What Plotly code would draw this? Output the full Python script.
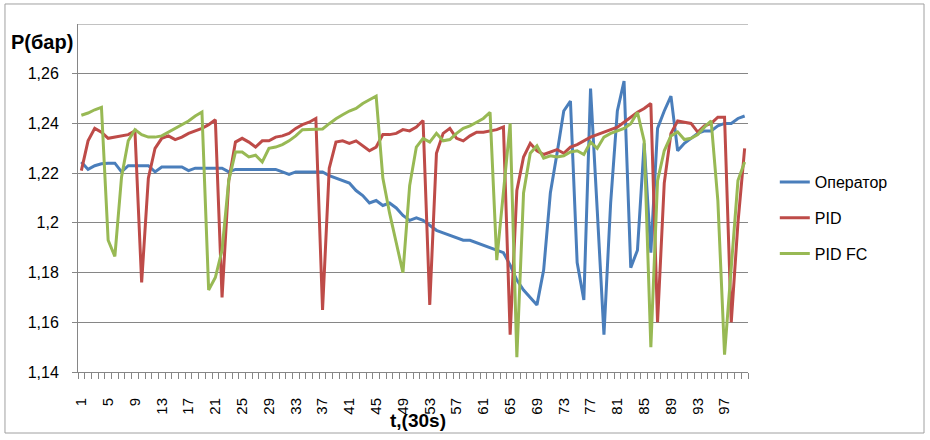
import plotly.graph_objects as go

t = list(range(1, 101))

operator = [1.2245, 1.2215, 1.223, 1.2238, 1.224, 1.224, 1.2205, 1.223, 1.223, 1.223,
            1.223, 1.2205, 1.2225, 1.2225, 1.2225, 1.2225, 1.221, 1.222, 1.222, 1.222,
            1.222, 1.222, 1.2205, 1.2215, 1.2215, 1.2215, 1.2215, 1.2215, 1.2215, 1.2215,
            1.2205, 1.2195, 1.2205, 1.2205, 1.2205, 1.2205, 1.2205, 1.219, 1.218, 1.217,
            1.216, 1.213, 1.211, 1.208, 1.209, 1.207, 1.208, 1.206, 1.203, 1.201,
            1.202, 1.201, 1.199, 1.197, 1.196, 1.195, 1.194, 1.193, 1.193, 1.192,
            1.191, 1.190, 1.189, 1.188, 1.183, 1.177, 1.173, 1.170, 1.167, 1.181,
            1.212, 1.228, 1.245, 1.249, 1.184, 1.169, 1.254, 1.205, 1.155, 1.208,
            1.245, 1.257, 1.182, 1.189, 1.232, 1.188, 1.238, 1.245, 1.251, 1.229,
            1.232, 1.234, 1.236, 1.237, 1.237, 1.239, 1.240, 1.240, 1.242, 1.243]

pid = [1.221, 1.233, 1.238, 1.2365, 1.234, 1.2345, 1.235, 1.2355, 1.237, 1.176,
       1.218, 1.230, 1.234, 1.235, 1.2335, 1.2345, 1.236, 1.237, 1.238, 1.2395,
       1.2415, 1.170, 1.217, 1.2325, 1.234, 1.2325, 1.2305, 1.233, 1.233, 1.2345,
       1.235, 1.236, 1.238, 1.2395, 1.2405, 1.242, 1.165, 1.222, 1.2325, 1.233,
       1.232, 1.233, 1.231, 1.229, 1.2305, 1.2355, 1.2355, 1.236, 1.2375, 1.237,
       1.2385, 1.2412, 1.167, 1.228, 1.236, 1.238, 1.234, 1.233, 1.235, 1.2365,
       1.2365, 1.237, 1.2375, 1.2386, 1.155, 1.213, 1.2265, 1.232, 1.229, 1.2275,
       1.2285, 1.2295, 1.228, 1.2305, 1.2315, 1.233, 1.2345, 1.2355, 1.2365, 1.2375,
       1.2385, 1.2405, 1.2425, 1.2445, 1.246, 1.248, 1.160, 1.216, 1.236, 1.241,
       1.2405, 1.240, 1.2365, 1.239, 1.240, 1.2425, 1.2425, 1.160, 1.200, 1.230]

pid_fc = [1.2433, 1.2442, 1.2455, 1.2465, 1.193, 1.1865, 1.2185, 1.233, 1.2375, 1.2355,
          1.2345, 1.2345, 1.235, 1.2365, 1.238, 1.2395, 1.241, 1.243, 1.2446, 1.173,
          1.178, 1.189, 1.217, 1.2285, 1.2285, 1.2265, 1.2272, 1.2245, 1.230, 1.2305,
          1.2315, 1.233, 1.235, 1.2375, 1.2375, 1.2375, 1.2378, 1.2399, 1.2419, 1.2435,
          1.245, 1.246, 1.248, 1.2495, 1.251, 1.218, 1.204, 1.192, 1.180, 1.215,
          1.2305, 1.234, 1.2325, 1.236, 1.233, 1.2335, 1.236, 1.238, 1.239, 1.2405,
          1.242, 1.2445, 1.185, 1.2125, 1.240, 1.146, 1.212, 1.228, 1.231, 1.226,
          1.227, 1.2265, 1.227, 1.2285, 1.229, 1.2275, 1.2325, 1.230, 1.2345, 1.236,
          1.237, 1.238, 1.2399, 1.2445, 1.233, 1.150, 1.217, 1.229, 1.235, 1.2366,
          1.2335, 1.234, 1.2355, 1.2385, 1.241, 1.209, 1.147, 1.181, 1.217, 1.2245]

series_names = ["Оператор", "PID", "PID FC"]
x_tick_vals = list(range(1, 101, 4))
x_tick_text = [str(v) for v in x_tick_vals]
y_tick_vals = [1.14, 1.16, 1.18, 1.20, 1.22, 1.24, 1.26]
y_tick_text = ["1,14", "1,16", "1,18", "1,2", "1,22", "1,24", "1,26"]
y_min, y_max = 1.14, 1.28

colors = ["#4A7EBB", "#BE4B48", "#98B954"]
FONT = "Liberation Sans, Arial, sans-serif"
GRID = "#868686"

fig = go.Figure()
for i, (name, ys) in enumerate(zip(series_names, [operator, pid, pid_fc])):
    fig.add_trace(go.Scatter(
        x=t, y=ys, name=name, mode="lines", legendgroup=str(i),
        line=dict(color=colors[i], width=3),
    ))

fig.update_layout(
    width=930, height=440, autosize=False,
    paper_bgcolor="white", plot_bgcolor="white",
    margin=dict(l=78, r=182, t=24, b=68),
    font=dict(family=FONT, color="#000000", size=14),
    showlegend=True,
    legend=dict(
        x=1.04, y=0.4425, xanchor="left", yanchor="middle",
        font=dict(family=FONT, size=16, color="#000000"),
        tracegroupgap=12, traceorder="grouped",
        bgcolor="rgba(0,0,0,0)",
    ),
    xaxis=dict(
        range=[0.5, 100.5], tickmode="array", tickvals=x_tick_vals, ticktext=x_tick_text,
        tickangle=-90, ticks="", showgrid=False, zeroline=False,
        showline=True, linecolor=GRID, linewidth=1,
        tickfont=dict(family=FONT, size=15, color="#000000"),
        ticklabelstandoff=19,
        minor=dict(tickmode="linear", tick0=0.5, dtick=1, ticks="outside",
                   ticklen=6, tickcolor=GRID, tickwidth=1, showgrid=False),
    ),
    yaxis=dict(
        range=[y_min, y_max], tickmode="array", tickvals=y_tick_vals, ticktext=y_tick_text,
        showgrid=True, gridcolor=GRID, gridwidth=1, zeroline=False,
        showline=True, linecolor=GRID, linewidth=1,
        ticks="outside", ticklen=5, tickcolor=GRID,
        tickfont=dict(family=FONT, size=16, color="#000000"),
        ticklabelstandoff=10,
    ),
    annotations=[
        dict(text="<b>P(бар)</b>", xref="paper", yref="paper", x=-0.0537, y=0.948,
             xanchor="center", yanchor="middle", showarrow=False,
             font=dict(family=FONT, size=20, color="#000000")),
        dict(text="<b>t,(30s)</b>", xref="paper", yref="paper", x=0.5075, y=-0.1408,
             xanchor="center", yanchor="middle", showarrow=False,
             font=dict(family=FONT, size=19, color="#000000")),
    ],
    shapes=[
        dict(type="line", xref="paper", yref="y", x0=0, x1=1, y0=y_max, y1=y_max,
             line=dict(color=GRID, width=1), layer="below"),
        dict(type="rect", xref="paper", yref="paper",
             x0=-0.109, x1=1.2627, y0=-0.1753, y1=1.0575,
             line=dict(color="#A0A0A0", width=1), fillcolor="rgba(0,0,0,0)", layer="below"),
    ],
)

fig.write_html("out.html", config={"displayModeBar": False},
               post_script="document.body.style.margin='0px';")
